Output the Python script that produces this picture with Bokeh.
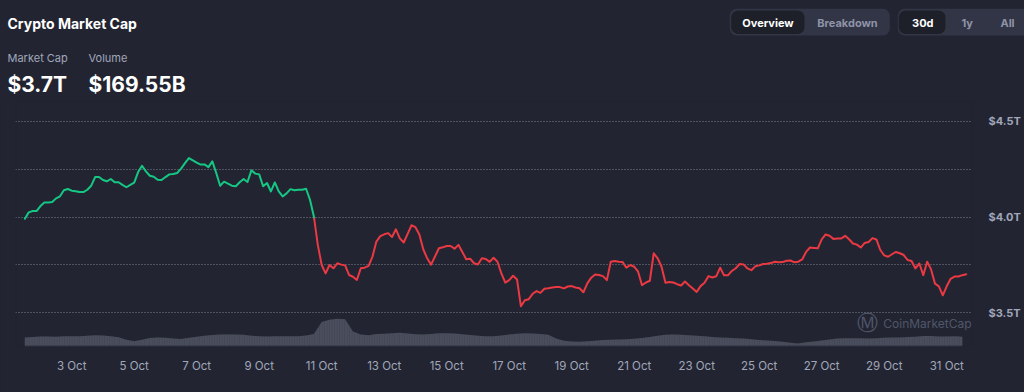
import re
import numpy as np
from bokeh.plotting import figure
from bokeh.layouts import column
from bokeh.models import (Range1d, FixedTicker, PrintfTickFormatter, BoxAnnotation, Label,
                          InlineStyleSheet)
from bokeh.embed import file_html
from bokeh.resources import INLINE
from bokeh.core.properties import value

# ---------------- data ----------------
START_DAY = 1.5          # 1 Oct 12:00
STEP_DAYS = 1 / 8        # 3-hourly samples
market_cap_t = [
    3.991, 4.024, 4.031, 4.031, 4.057, 4.075, 4.075, 4.078, 4.097, 4.108,
    4.139, 4.146, 4.137, 4.134, 4.130, 4.130, 4.142, 4.163, 4.208, 4.208,
    4.193, 4.186, 4.198, 4.181, 4.181, 4.167, 4.155, 4.167, 4.179, 4.234,
    4.267, 4.238, 4.215, 4.210, 4.194, 4.193, 4.208, 4.222, 4.224, 4.229,
    4.252, 4.281, 4.307, 4.295, 4.283, 4.273, 4.274, 4.260, 4.290, 4.229,
    4.163, 4.184, 4.174, 4.163, 4.160, 4.181, 4.198, 4.182, 4.243, 4.226,
    4.222, 4.160, 4.177, 4.133, 4.180, 4.133, 4.107, 4.123, 4.145, 4.139,
    4.142, 4.142, 4.147, 4.090, 4.003, 3.855, 3.750, 3.706, 3.750, 3.733,
    3.759, 3.752, 3.748, 3.698, 3.689, 3.672, 3.733, 3.736, 3.745, 3.794,
    3.872, 3.900, 3.910, 3.916, 3.896, 3.936, 3.889, 3.867, 3.912, 3.957,
    3.947, 3.909, 3.832, 3.785, 3.752, 3.794, 3.837, 3.842, 3.849, 3.849,
    3.835, 3.855, 3.818, 3.780, 3.783, 3.759, 3.753, 3.785, 3.781, 3.766,
    3.788, 3.767, 3.706, 3.658, 3.671, 3.694, 3.675, 3.535, 3.566, 3.572,
    3.600, 3.614, 3.605, 3.626, 3.629, 3.633, 3.635, 3.635, 3.628, 3.638,
    3.640, 3.633, 3.629, 3.608, 3.654, 3.684, 3.701, 3.698, 3.692, 3.671,
    3.767, 3.771, 3.767, 3.766, 3.736, 3.750, 3.741, 3.715, 3.645, 3.659,
    3.668, 3.811, 3.785, 3.741, 3.657, 3.661, 3.659, 3.650, 3.643, 3.664,
    3.645, 3.628, 3.610, 3.640, 3.657, 3.692, 3.685, 3.691, 3.736, 3.696,
    3.696, 3.719, 3.733, 3.755, 3.753, 3.732, 3.723, 3.743, 3.748, 3.755,
    3.757, 3.760, 3.767, 3.764, 3.765, 3.772, 3.774, 3.764, 3.767, 3.779,
    3.818, 3.841, 3.839, 3.837, 3.883, 3.909, 3.902, 3.886, 3.888, 3.888,
    3.902, 3.884, 3.862, 3.856, 3.841, 3.865, 3.870, 3.890, 3.883, 3.828,
    3.800, 3.793, 3.806, 3.818, 3.811, 3.802, 3.776, 3.771, 3.732, 3.758,
    3.697, 3.767, 3.727, 3.653, 3.639, 3.592, 3.639, 3.678, 3.690, 3.690,
    3.697, 3.702,
]

VOL_START_DAY = 1.5
VOL_STEP_DAYS = 0.25     # 6-hourly samples
volume_b = [
    158, 168, 177, 175, 172, 179, 180, 180, 187, 196,
    191, 180, 163, 117, 93, 117, 147, 156, 151, 140,
    130, 154, 172, 187, 203, 210, 210, 210, 207, 189,
    179, 175, 179, 180, 180, 180, 193, 219, 429, 466,
    487, 476, 263, 210, 198, 217, 224, 231, 240, 228,
    215, 212, 217, 231, 231, 226, 214, 200, 186, 180,
    180, 193, 212, 224, 231, 228, 217, 207, 140, 100,
    86, 82, 91, 102, 112, 119, 123, 128, 135, 149,
    165, 186, 207, 208, 205, 198, 189, 179, 168, 158,
    151, 144, 138, 128, 112, 105, 98, 81, 65, 54,
    74, 88, 103, 123, 138, 144, 145, 145, 142, 145,
    154, 158, 158, 165, 172, 182, 184, 177, 177, 180,
    172,
]

tick_days = [3, 5, 7, 9, 11, 13, 15, 17, 19, 21, 23, 25, 27, 29, 31]
tick_labels = ["3 Oct", "5 Oct", "7 Oct", "9 Oct", "11 Oct", "13 Oct", "15 Oct",
               "17 Oct", "19 Oct", "21 Oct", "23 Oct", "25 Oct", "27 Oct",
               "29 Oct", "31 Oct"]
y_ticks = [3.5, 4.0, 4.5]
grid_levels = [3.5, 3.75, 4.0, 4.25, 4.5]

header_title = "Crypto Market Cap"
stat_labels = ["Market Cap", "Volume"]
stat_values = ["$3.7T", "$169.55B"]
tabs_left = ["Overview", "Breakdown"]
tabs_right = ["30d", "1y", "All"]

# ---------------- style ----------------
BG = "#222531"
GREEN = "#16c784"
RED = "#ea3943"
GRAY = "#a1a7bb"
FONT = "Inter"

seam_css = InlineStyleSheet(css="""
:host { background-color: #222531; }
svg rect[fill="#FFFFFF"], svg rect[fill="#ffffff"], svg rect[fill="white"],
svg path[fill="#FFFFFF"], svg path[fill="#ffffff"], svg path[fill="white"] {
  fill: #222531 !important;
}
""")

# ---------------- header ----------------
W = 1024
HH = 100
head = figure(width=W, height=HH, x_range=Range1d(0, W), y_range=Range1d(HH, 0),
              min_border=0, toolbar_location=None, output_backend="svg",
              background_fill_color=BG, border_fill_color=BG,
              outline_line_color=BG, frame_align=False)
head.stylesheets = [seam_css]
head.axis.visible = False
head.grid.visible = False

for l, r, t, b, c in [(729.3, 889.3, 8.3, 35, "#323546"),
                      (730.7, 804, 10, 33.5, "#1e2029"),
                      (897.3, 1040, 8.3, 35, "#323546"),
                      (898.3, 945, 10, 33.5, "#1e2029")]:
    head.add_layout(BoxAnnotation(left=l, right=r, top=t, bottom=b, fill_color=c,
                                  fill_alpha=1, line_color=None, line_alpha=0,
                                  border_radius=7, level="underlay"))

head.text(x=[7], y=[23], text=[header_title], text_font=value(FONT),
          text_font_size="14px", text_font_style="bold", text_color="white",
          text_baseline="middle")
head.text(x=[7, 88], y=[57, 57], text=stat_labels, text_font=value(FONT),
          text_font_size="11px", text_color=GRAY, text_baseline="middle")
head.text(x=[7, 88], y=[83.5, 83.5], text=stat_values, text_font=value(FONT),
          text_font_size="21px", text_font_style="bold", text_color="white",
          text_baseline="middle")
head.text(x=[767.5, 847, 922.3, 966.7, 1007], y=[22] * 5,
          text=tabs_left + tabs_right, text_font=value(FONT), text_font_size="11px",
          text_font_style="bold",
          text_color=["white", "#8e93a6", "white", "#8e93a6", "#8e93a6"],
          text_align="center", text_baseline="middle")

# ---------------- chart ----------------
days = START_DAY + STEP_DAYS * np.arange(len(market_cap_t))
caps = np.array(market_cap_t)
vdays = VOL_START_DAY + VOL_STEP_DAYS * np.arange(len(volume_b))

X0, X1 = 1.2016, 31.8256
p = figure(width=W, height=292,
           x_range=Range1d(X0, X1), y_range=Range1d(3.3255, 4.6068),
           y_axis_location="right", min_border_left=15, min_border_right=52,
           min_border_top=0, min_border_bottom=46,
           toolbar_location=None, output_backend="svg",
           background_fill_color=BG, border_fill_color=BG,
           outline_line_color=BG, outline_line_width=1, frame_align=False)
p.stylesheets = [seam_css]
p.extra_y_ranges = {"vol": Range1d(0, 4305)}

p.xgrid.visible = False
p.ygrid.ticker = FixedTicker(ticks=grid_levels)
p.ygrid.grid_line_color = "#9aa0b0"
p.ygrid.grid_line_alpha = 0.75
p.ygrid.grid_line_dash = "1 2"

p.varea(x=vdays, y1=0, y2=volume_b, y_range_name="vol", fill_color="#4a4e5d",
        hatch_pattern="|", hatch_color="#3c404d", hatch_scale=2.5, hatch_alpha=0.6)

base = caps[0]
runs = {True: [], False: []}
cur_x, cur_y = [days[0]], [caps[0]]
cur_up = bool(caps[0] >= base)
for k in range(1, len(caps)):
    up = bool(caps[k] >= base)
    if up != cur_up:
        t = (base - caps[k - 1]) / (caps[k] - caps[k - 1])
        xc = days[k - 1] + t * (days[k] - days[k - 1])
        cur_x.append(xc)
        cur_y.append(base)
        runs[cur_up].append((cur_x, cur_y))
        cur_x, cur_y, cur_up = [xc], [base], up
    cur_x.append(days[k])
    cur_y.append(caps[k])
runs[cur_up].append((cur_x, cur_y))

for up, col in [(True, GREEN), (False, RED)]:
    if runs[up]:
        p.multi_line(xs=[list(r[0]) for r in runs[up]], ys=[list(r[1]) for r in runs[up]],
                     line_color=col, line_width=2, line_join="round", line_cap="round")

# edge covers (keep the frame borderless)
p.add_layout(BoxAnnotation(fill_alpha=0, line_color=BG, line_width=2, level="overlay"))
p.add_layout(BoxAnnotation(left=X0 - 1.0, right=X1 + 3.0, fill_alpha=0, line_color=BG,
                           line_width=2, level="overlay"))

xa = p.xaxis[0]
xa.ticker = FixedTicker(ticks=tick_days)
xa.major_label_overrides = dict(zip(tick_days, tick_labels))
xa.axis_line_color = None
xa.major_tick_line_color = None
xa.minor_tick_line_color = None
xa.major_tick_out = 0
xa.major_tick_in = 0
xa.minor_tick_out = 0
xa.major_label_standoff = 12
xa.major_label_text_font = FONT
xa.major_label_text_font_size = "11.5px"
xa.major_label_text_color = GRAY

ya = p.yaxis[0]
ya.ticker = FixedTicker(ticks=y_ticks)
ya.formatter = PrintfTickFormatter(format="$%.1fT")
ya.axis_line_color = None
ya.major_tick_line_color = None
ya.minor_tick_line_color = None
ya.major_tick_out = 0
ya.major_tick_in = 0
ya.minor_tick_out = 0
ya.major_label_standoff = 16
ya.major_label_text_font = FONT
ya.major_label_text_font_size = "11px"
ya.major_label_text_font_style = "bold"
ya.major_label_text_color = GRAY

# watermark
p.add_layout(Label(x=28.97, y=3.4453, text="CoinMarketCap", text_font=FONT,
                   text_font_size="12px", text_color="#50566a",
                   text_baseline="middle"))
p.add_layout(Label(x=28.48, y=3.4453, text="\u24c2", text_font="DejaVu Sans",
                   text_font_size="21px", text_color="#50566a",
                   text_align="center", text_baseline="middle"))

layout = column(head, p)
html = file_html(layout, INLINE, title="Crypto Market Cap")
html = re.sub(r"<body([^>]*)>", '<body\\1 style="background-color:#222531;">', html, count=1)
with open("out.html", "w") as f:
    f.write(html)
